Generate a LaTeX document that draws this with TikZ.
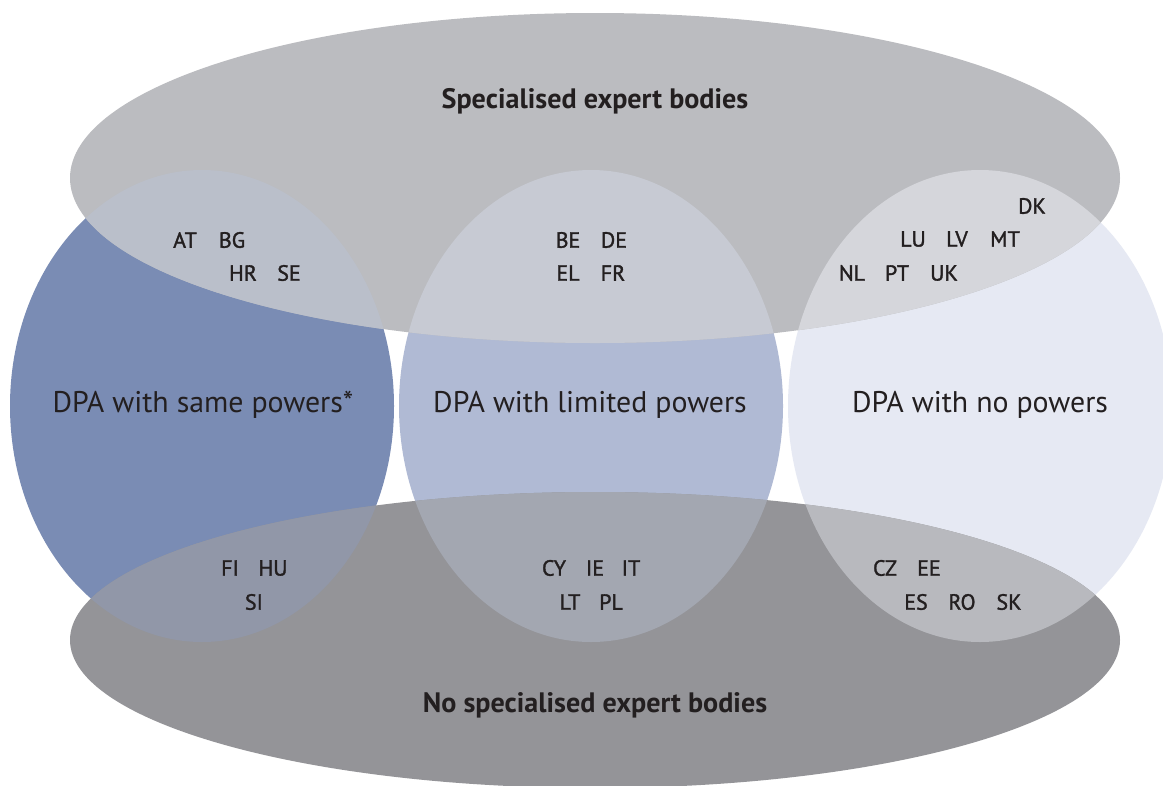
\documentclass[tikz,border=0pt]{standalone}
\usepackage{fontspec}
\setmainfont{PT Sans}
\newfontfamily\codefont{PT Sans}[FakeBold=1.5]

\definecolor{samepow}{HTML}{7A8CB4}
\definecolor{limpow}{HTML}{B0BAD4}
\definecolor{nopow}{HTML}{E6E9F3}
\definecolor{expert}{HTML}{BBBCC0}
\definecolor{noexpert}{HTML}{949498}
\definecolor{expertsame}{HTML}{BABFCA}
\definecolor{expertlim}{HTML}{C7CAD3}
\definecolor{expertno}{HTML}{D5D6DB}
\definecolor{noexpertsame}{HTML}{9197A8}
\definecolor{noexpertlim}{HTML}{A3A7B1}
\definecolor{noexpertno}{HTML}{B8B9BE}
\definecolor{labeltext}{HTML}{231F20}

\begin{document}
\begin{tikzpicture}[x=0.02cm, y=-0.02cm,
  code/.style={text=labeltext, inner sep=0pt, font=\codefont\fontsize{12.5}{14}\selectfont},
  dpa/.style={text=labeltext, inner sep=0pt, font=\fontsize{17}{20}\selectfont},
  head/.style={text=labeltext, inner sep=0pt, font=\bfseries\fontsize{16}{19}\selectfont}]

\clip (0,0) rectangle (1163,785);
\fill [white] (0,0) rectangle (1163,785);

% the three kinds of DPA
\fill [samepow] (202,406) ellipse [x radius=192, y radius=236];
\fill [limpow]  (591,406) ellipse [x radius=192, y radius=236];
\fill [nopow]   (980,406) ellipse [x radius=192, y radius=236];

% expert bodies or not
\fill [expert]   (595,178) ellipse [x radius=525, y radius=165];
\fill [noexpert] (595,640) ellipse [x radius=525, y radius=148];

% overlaps
\foreach \cx/\up/\down in {202/expertsame/noexpertsame,
                           591/expertlim/noexpertlim,
                           980/expertno/noexpertno} {
  \begin{scope}
    \clip (595,178) ellipse [x radius=525, y radius=165];
    \fill [\up] (\cx,406) ellipse [x radius=192, y radius=236];
  \end{scope}
  \begin{scope}
    \clip (595,640) ellipse [x radius=525, y radius=148];
    \fill [\down] (\cx,406) ellipse [x radius=192, y radius=236];
  \end{scope}
}

\node [head] (expert)   at (595,101) {Specialised expert bodies};
\node [head] (noexpert) at (595,705) {No specialised expert bodies};

\node [dpa] (same)    at (203,405) {DPA with same powers*};
\node [dpa] (limited) at (590,405) {DPA with limited powers};
\node [dpa] (none)    at (980,405) {DPA with no powers};

% countries
\node [code] (at) at (185,240) {AT};
\node [code] (bg) at (232,240) {BG};
\node [code] (hr) at (243,273) {HR};
\node [code] (se) at (289,273) {SE};

\node [code] (be) at (568,240) {BE};
\node [code] (de) at (614,240) {DE};
\node [code] (el) at (568,273) {EL};
\node [code] (fr) at (613,273) {FR};

\node [code] (dk) at (1032,206) {DK};
\node [code] (lu) at (913,239) {LU};
\node [code] (lv) at (957,239) {LV};
\node [code] (mt) at (1005,239) {MT};
\node [code] (nl) at (852,273) {NL};
\node [code] (pt) at (897,273) {PT};
\node [code] (uk) at (944,273) {UK};

\node [code] (fi) at (230,568) {FI};
\node [code] (hu) at (273,568) {HU};
\node [code] (si) at (254,602) {SI};

\node [code] (cy) at (554,568) {CY};
\node [code] (ie) at (595,568) {IE};
\node [code] (it) at (631,568) {IT};
\node [code] (lt) at (570,602) {LT};
\node [code] (pl) at (611,602) {PL};

\node [code] (cz) at (885,568) {CZ};
\node [code] (ee) at (929,568) {EE};
\node [code] (es) at (916,602) {ES};
\node [code] (ro) at (962,602) {RO};
\node [code] (sk) at (1009,602) {SK};
\end{tikzpicture}
\end{document}
